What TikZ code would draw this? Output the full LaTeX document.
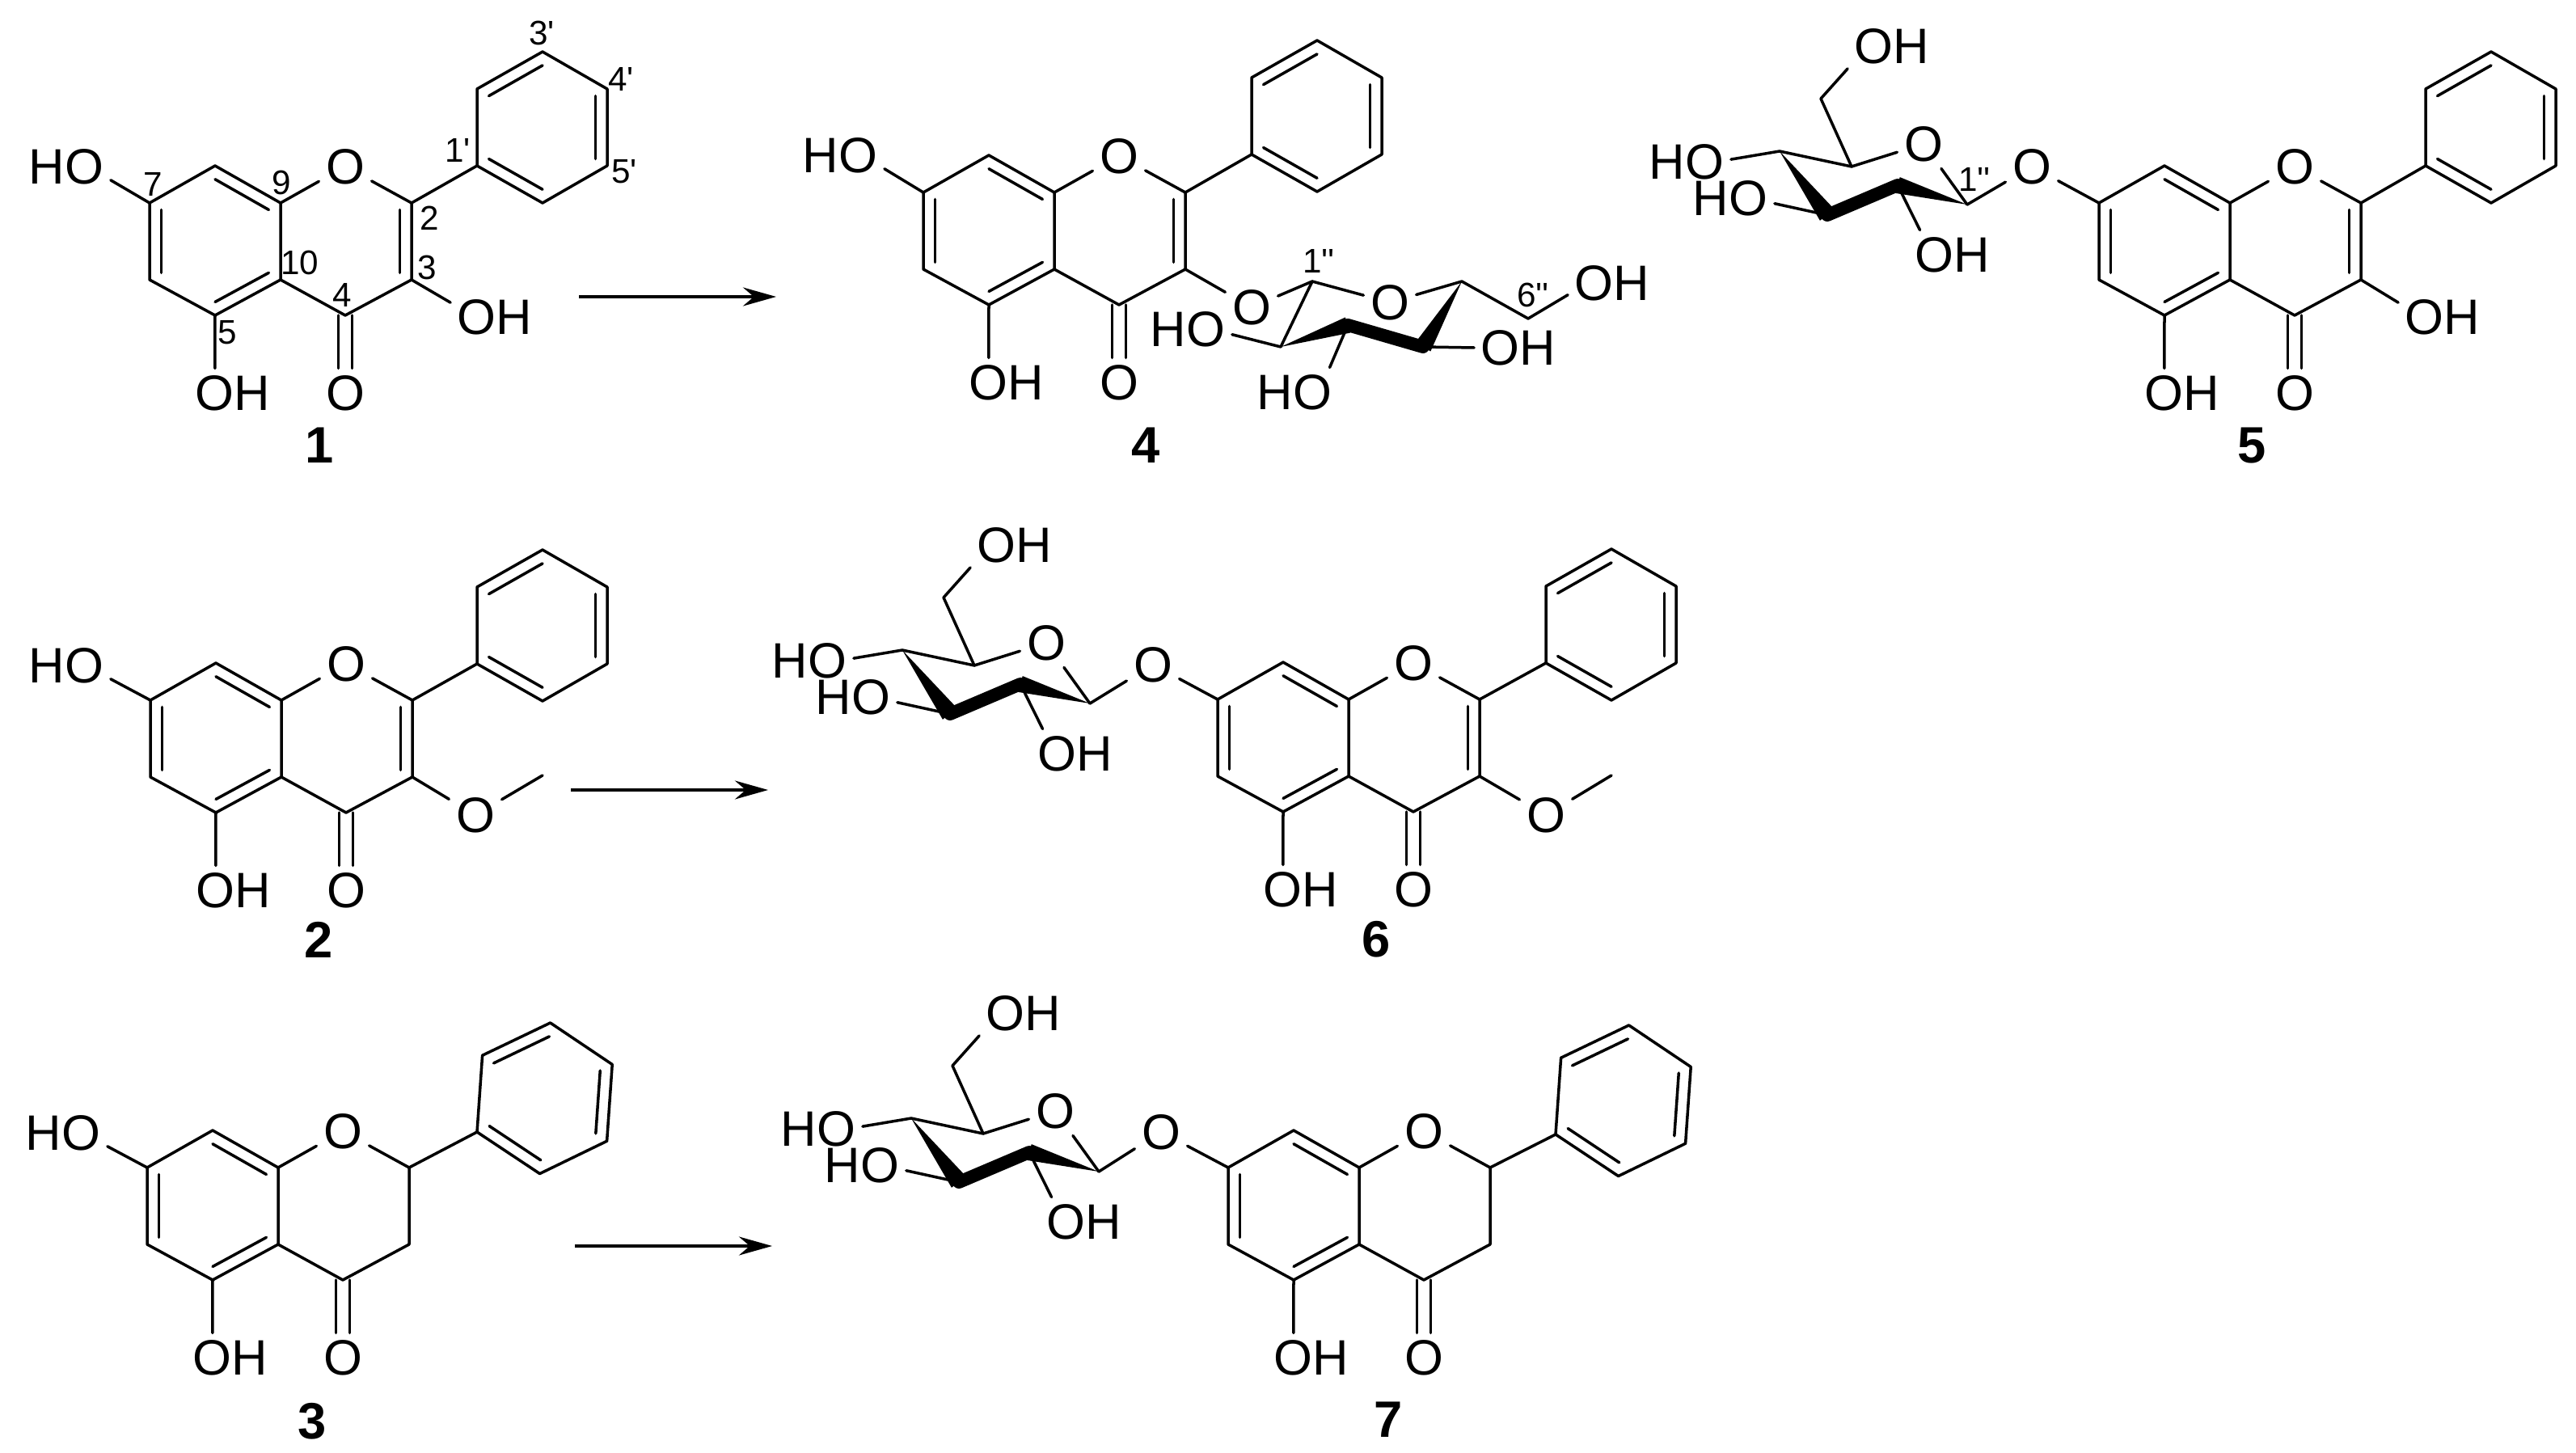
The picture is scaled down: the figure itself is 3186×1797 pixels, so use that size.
\documentclass[tikz,border=0pt]{standalone}
\usepackage{fontspec}
\setmainfont{Liberation Sans}
\usetikzlibrary{calc,arrows.meta}

\tikzset{
  bond/.style={line width=.035cm,line cap=round,line join=round},
  boldbond/.style={line width=.16cm,line cap=round},
  atom/.style={inner sep=.08cm,font=\fontsize{17.5}{18}\selectfont},
  numlab/.style={inner sep=0,font=\fontsize{12}{12}\selectfont},
  cpdlab/.style={inner sep=0,font=\fontsize{18}{18}\selectfont\bfseries},
  rxn/.style={-{Stealth[length=.41cm,width=.23cm]},line width=.035cm},
}

% inner line of a double bond, pulled towards the ring centre
\newcommand{\innerbond}[3]{\draw[bond] ($(#1)!.18!(#3)$) -- ($(#2)!.18!(#3)$);}
\newcommand{\wedgebond}[2]{\fill (#1) -- ($(#2)!.115!90:(#1)$) -- ($(#2)!.115!-90:(#1)$) -- cycle;}

% chromane core: prefix, position of C9
\newcommand{\flavcore}[3]{
  \begin{scope}[shift={(#2,#3)}]
    \coordinate (#1c9) at (0,0);
    \coordinate (#1c8) at (-81,-46);
    \coordinate (#1c7) at (-162,0);
    \coordinate (#1c6) at (-162,95);
    \coordinate (#1c5) at (-81,139);
    \coordinate (#1c10) at (0,95);
    \coordinate (#1c4) at (80,139);
    \coordinate (#1c3) at (162,95);
    \coordinate (#1c2) at (162,0);
    \coordinate (#1ra) at (-81,47);
    \coordinate (#1rc) at (81,47);
    \node[atom] (#1o1) at (80,-45) {O};
    \node[atom] (#1o4) at (80,235) {O};
    \node[atom] (#1oh5) at (-59,235) {OH};
  \end{scope}
  \draw[bond] (#1c7) -- (#1c8) -- (#1c9) -- (#1c10) -- (#1c5) -- (#1c6) -- cycle;
  \draw[bond] (#1c9) -- (#1o1) -- (#1c2) -- (#1c3) -- (#1c4) -- (#1c10);
  \innerbond{#1c7}{#1c6}{#1ra}
  \innerbond{#1c8}{#1c9}{#1ra}
  \innerbond{#1c5}{#1c10}{#1ra}
  \draw[bond] ([xshift=-.085cm]#1c4) -- ([xshift=-.085cm]#1o4.north);
  \draw[bond] ([xshift=.085cm]#1c4) -- ([xshift=.085cm]#1o4.north);
  \draw[bond] (#1c5) -- (#1oh5.126);
}

% phenyl ring: prefix, position of C1', rotation
\newcommand{\phenylring}[4]{
  \begin{scope}[shift={(#2,#3)},rotate=#4]
    \coordinate (#1p1) at (0,0);
    \coordinate (#1p2) at (81,46);
    \coordinate (#1p3) at (161,0);
    \coordinate (#1p4) at (161,-95);
    \coordinate (#1p5) at (81,-141);
    \coordinate (#1p6) at (0,-95);
    \coordinate (#1rp) at (81,-47);
  \end{scope}
  \draw[bond] (#1c2) -- (#1p1);
  \draw[bond] (#1p1) -- (#1p2) -- (#1p3) -- (#1p4) -- (#1p5) -- (#1p6) -- cycle;
  \innerbond{#1p1}{#1p2}{#1rp}
  \innerbond{#1p3}{#1p4}{#1rp}
  \innerbond{#1p5}{#1p6}{#1rp}
}

% sugar on O-7: prefix, position of C1''
\newcommand{\glucosyl}[3]{
  \begin{scope}[shift={(#2,#3)}]
    \coordinate (#1s1) at (0,0);
    \coordinate (#1s2) at (-86,-24);
    \coordinate (#1s3) at (-173,13);
    \coordinate (#1s4) at (-232,-66);
    \coordinate (#1s5) at (-143,-47);
    \coordinate (#1s6) at (-181,-131);
    \node[atom] (#1so) at (-54,-75) {O};
    \node[atom] (#1oh6) at (-93,-196) {OH};
    \node[atom] (#1ho4) at (-347,-53) {HO};
    \node[atom] (#1ho3) at (-293,-8) {HO};
    \node[atom] (#1oh2) at (-18,62) {OH};
  \end{scope}
  \wedgebond{#1s1}{#1s2}
  \draw[boldbond] (#1s2) -- (#1s3);
  \wedgebond{#1s4}{#1s3}
  \draw[bond] (#1s4) -- (#1s5) -- (#1so) -- (#1s1);
  \draw[bond] (#1s5) -- (#1s6) -- (#1oh6.207);
  \draw[bond] (#1s4) -- (#1ho4.3);
  \draw[bond] (#1s3) -- (#1ho3.353);
  \draw[bond] (#1s2) -- (#1oh2.143);
}

\begin{document}
\begin{tikzpicture}[x=.01cm,y=-.01cm]
  \useasboundingbox (0,0) rectangle (3186,1797);

  % compound 1
  \flavcore{a}{347}{251}
  \phenylring{a}{590}{205}{0}
  \innerbond{ac2}{ac3}{arc}
  \node[atom] (aho7) at (82,206) {HO};
  \node[atom] (aoh3) at (612,392) {OH};
  \draw[bond] (ac7) -- (aho7.343);
  \draw[bond] (ac3) -- (aoh3.162);
  \node[cpdlab] (lab1) at (395,551) {1};
  \node[numlab] (n3p) at (670,41) {3\textquotesingle};
  \node[numlab] (n4p) at (768,98) {4\textquotesingle};
  \node[numlab] (n5p) at (772,212) {5\textquotesingle};
  \node[numlab] (n1p) at (566,186) {1\textquotesingle};
  \node[numlab] (n2) at (531,270) {2};
  \node[numlab] (n3) at (528,331) {3};
  \node[numlab] (n10) at (371,325) {10};
  \node[numlab] (n9) at (348,226) {9};
  \node[numlab] (n7) at (189,228) {7};
  \node[numlab] (n4) at (423,365) {4};
  \node[numlab] (n5) at (281,411) {5};

  % compound 4
  \flavcore{d}{1304}{238}
  \phenylring{d}{1548}{191}{0}
  \innerbond{dc2}{dc3}{drc}
  \node[atom] (dho7) at (1039,192) {HO};
  \node[atom] (do3) at (1548,380) {O};
  \draw[bond] (dc7) -- (dho7.343);
  \draw[bond] (dc3) -- (do3);
  \coordinate (ds1) at (1623,348);
  \coordinate (ds2) at (1584,429);
  \coordinate (ds3) at (1667,402);
  \coordinate (ds4) at (1760,429);
  \coordinate (ds5) at (1808,348);
  \coordinate (ds6) at (1890,394);
  \node[atom] (dso) at (1719,374) {O};
  \node[atom] (doh6) at (1994,350) {OH};
  \node[atom] (dho2) at (1469,407) {HO};
  \node[atom] (dho3) at (1601,485) {HO};
  \node[atom] (doh4) at (1878,430) {OH};
  \draw[bond] (do3) -- (ds1) -- (dso) -- (ds5) -- (ds6) -- (doh6.195);
  \draw[bond] (ds1) -- (ds2) -- (dho2.353);
  \draw[bond] (ds3) -- (dho3.35);
  \draw[bond] (ds4) -- (doh4.180);
  \wedgebond{ds2}{ds3}
  \draw[boldbond] (ds3) -- (ds4);
  \wedgebond{ds5}{ds4}
  \node[cpdlab] (lab4) at (1417,551) {4};
  \node[numlab] (nd1) at (1631,323) {1\textquotesingle\textquotesingle};
  \node[numlab] (nd6) at (1896,365) {6\textquotesingle\textquotesingle};

  % compound 5
  \flavcore{e}{2758}{251}
  \phenylring{e}{3000}{205}{0}
  \innerbond{ec2}{ec3}{erc}
  \glucosyl{e}{2433}{253}
  \node[atom] (eo7) at (2513,206) {O};
  \node[atom] (eoh3) at (3021,392) {OH};
  \draw[bond] (ec7) -- (eo7) -- (es1);
  \draw[bond] (ec3) -- (eoh3.162);
  \node[cpdlab] (lab5) at (2785,551) {5};
  \node[numlab] (ne1) at (2442,222) {1\textquotesingle\textquotesingle};

  % compound 2
  \flavcore{b}{348}{866}
  \phenylring{b}{590}{821}{0}
  \innerbond{bc2}{bc3}{brc}
  \node[atom] (bho7) at (82,823) {HO};
  \node[atom] (bo3) at (588,1008) {O};
  \coordinate (bme) at (671,959);
  \draw[bond] (bc7) -- (bho7.343);
  \draw[bond] (bc3) -- (bo3) -- (bme);
  \node[cpdlab] (lab2) at (394,1162) {2};

  % compound 6
  \flavcore{f}{1668}{865}
  \phenylring{f}{1912}{820}{0}
  \innerbond{fc2}{fc3}{frc}
  \glucosyl{f}{1348}{870}
  \node[atom] (fo7) at (1426,822) {O};
  \node[atom] (fo3) at (1912,1008) {O};
  \coordinate (fme) at (1993,959);
  \draw[bond] (fc7) -- (fo7) -- (fs1);
  \draw[bond] (fc3) -- (fo3) -- (fme);
  \node[cpdlab] (lab6) at (1702,1162) {6};

  % compound 3
  \flavcore{c}{344}{1444}
  \phenylring{c}{590}{1400}{-4}
  \node[atom] (cho7) at (78,1401) {HO};
  \draw[bond] (cc7) -- (cho7.343);
  \node[cpdlab] (lab3) at (386,1758) {3};

  % compound 7
  \flavcore{g}{1681}{1444}
  \phenylring{g}{1924}{1403}{-4}
  \glucosyl{g}{1359}{1449}
  \node[atom] (go7) at (1436,1400) {O};
  \draw[bond] (gc7) -- (go7) -- (gs1);
  \node[cpdlab] (lab7) at (1717,1756) {7};

  % arrows
  \coordinate (arr1a) at (716,367);
  \coordinate (arr1b) at (960,367);
  \coordinate (arr2a) at (706,977);
  \coordinate (arr2b) at (950,977);
  \coordinate (arr3a) at (711,1541);
  \coordinate (arr3b) at (955,1541);
  \draw[rxn] (arr1a) -- (arr1b);
  \draw[rxn] (arr2a) -- (arr2b);
  \draw[rxn] (arr3a) -- (arr3b);
\end{tikzpicture}
\end{document}
